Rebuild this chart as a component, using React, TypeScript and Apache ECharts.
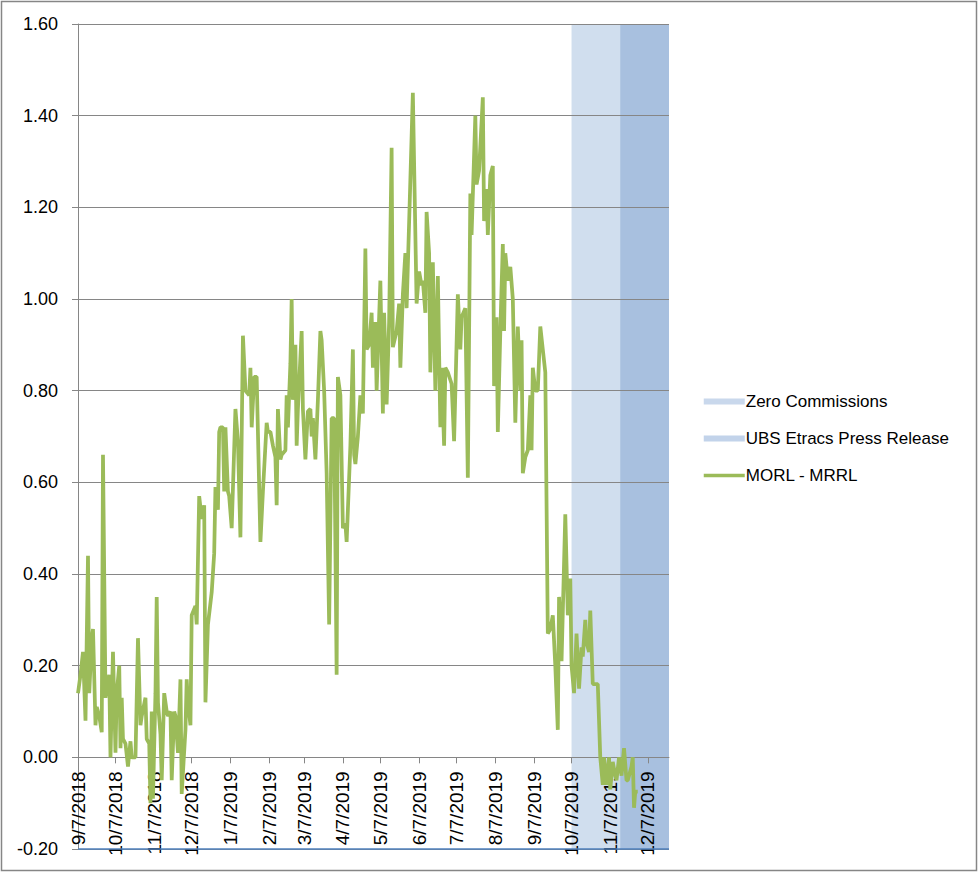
import React, { useEffect, useRef } from "react";
import * as echarts from "echarts";

const axisStart = [2018, 9, 7];
const axisEnd = [2019, 12, 24];

const tickLabels = [
  "9/7/2018", "10/7/2018", "11/7/2018", "12/7/2018", "1/7/2019", "2/7/2019", "3/7/2019", "4/7/2019",
  "5/7/2019", "6/7/2019", "7/7/2019", "8/7/2019", "9/7/2019", "10/7/2019", "11/7/2019", "12/7/2019",
];

const zeroCommissions = ["10/7/2019", "12/24/2019"];
const ubsPressRelease = ["11/15/2019", "12/24/2019"];

const dates = [
  "9/7/2018", "9/9/2018", "9/11/2018", "9/13/2018", "9/15/2018", "9/16/2018", "9/18/2018", "9/19/2018",
  "9/21/2018", "9/22/2018", "9/24/2018", "9/26/2018", "9/27/2018", "9/29/2018", "9/30/2018", "10/2/2018",
  "10/3/2018", "10/4/2018", "10/5/2018", "10/7/2018", "10/8/2018", "10/10/2018", "10/11/2018", "10/12/2018",
  "10/13/2018", "10/15/2018", "10/17/2018", "10/19/2018", "10/20/2018", "10/23/2018", "10/25/2018", "10/27/2018",
  "10/28/2018", "10/31/2018", "11/1/2018", "11/3/2018", "11/4/2018", "11/5/2018", "11/6/2018", "11/8/2018",
  "11/9/2018", "11/10/2018", "11/12/2018", "11/13/2018", "11/15/2018", "11/17/2018", "11/18/2018", "11/20/2018",
  "11/21/2018", "11/23/2018", "11/24/2018", "11/26/2018", "11/28/2018", "11/29/2018", "12/2/2018", "12/3/2018",
  "12/4/2018", "12/6/2018", "12/7/2018", "12/10/2018", "12/11/2018", "12/13/2018", "12/15/2018", "12/17/2018",
  "12/18/2018", "12/20/2018", "12/23/2018", "12/25/2018", "12/26/2018", "12/28/2018", "12/29/2018", "12/30/2018",
  "1/1/2019", "1/2/2019", "1/3/2019", "1/5/2019", "1/6/2019", "1/8/2019", "1/11/2019", "1/13/2019",
  "1/15/2019", "1/17/2019", "1/19/2019", "1/22/2019", "1/23/2019", "1/24/2019", "1/26/2019", "1/28/2019",
  "1/31/2019", "2/2/2019", "2/5/2019", "2/6/2019", "2/8/2019", "2/10/2019", "2/12/2019", "2/13/2019",
  "2/14/2019", "2/16/2019", "2/17/2019", "2/20/2019", "2/21/2019", "2/22/2019", "2/24/2019", "2/25/2019",
  "2/26/2019", "2/28/2019", "3/1/2019", "3/2/2019", "3/5/2019", "3/6/2019", "3/8/2019", "3/10/2019",
  "3/12/2019", "3/13/2019", "3/14/2019", "3/16/2019", "3/18/2019", "3/20/2019", "3/21/2019", "3/23/2019",
  "3/25/2019", "3/27/2019", "3/29/2019", "3/31/2019", "4/2/2019", "4/3/2019", "4/5/2019", "4/7/2019",
  "4/9/2019", "4/10/2019", "4/13/2019", "4/15/2019", "4/16/2019", "4/17/2019", "4/19/2019", "4/21/2019",
  "4/23/2019", "4/25/2019", "4/26/2019", "4/28/2019", "4/30/2019", "5/1/2019", "5/3/2019", "5/4/2019",
  "5/7/2019", "5/9/2019", "5/10/2019", "5/12/2019", "5/14/2019", "5/16/2019", "5/17/2019", "5/20/2019",
  "5/22/2019", "5/23/2019", "5/25/2019", "5/27/2019", "5/28/2019", "5/31/2019", "6/2/2019", "6/5/2019",
  "6/7/2019", "6/9/2019", "6/10/2019", "6/12/2019", "6/13/2019", "6/15/2019", "6/16/2019", "6/18/2019",
  "6/20/2019", "6/22/2019", "6/24/2019", "6/25/2019", "6/27/2019", "6/28/2019", "6/30/2019", "7/3/2019",
  "7/5/2019", "7/8/2019", "7/10/2019", "7/11/2019", "7/14/2019", "7/16/2019", "7/18/2019", "7/19/2019",
  "7/22/2019", "7/23/2019", "7/25/2019", "7/28/2019", "7/29/2019", "7/31/2019", "8/1/2019", "8/3/2019",
  "8/5/2019", "8/6/2019", "8/8/2019", "8/9/2019", "8/11/2019", "8/13/2019", "8/14/2019", "8/15/2019",
  "8/17/2019", "8/19/2019", "8/21/2019", "8/23/2019", "8/25/2019", "8/27/2019", "8/28/2019", "8/29/2019",
  "8/31/2019", "9/2/2019", "9/4/2019", "9/5/2019", "9/6/2019", "9/8/2019", "9/10/2019", "9/12/2019",
  "9/14/2019", "9/16/2019", "9/18/2019", "9/20/2019", "9/22/2019", "9/24/2019", "9/26/2019", "9/27/2019",
  "9/29/2019", "10/2/2019", "10/4/2019", "10/6/2019", "10/7/2019", "10/9/2019", "10/11/2019", "10/13/2019",
  "10/15/2019", "10/16/2019", "10/18/2019", "10/19/2019", "10/21/2019", "10/22/2019", "10/24/2019", "10/28/2019",
  "10/30/2019", "11/1/2019", "11/2/2019", "11/4/2019", "11/6/2019", "11/7/2019", "11/9/2019", "11/11/2019",
  "11/12/2019", "11/14/2019", "11/16/2019", "11/18/2019", "11/20/2019", "11/21/2019", "11/24/2019", "11/25/2019",
  "11/26/2019", "11/27/2019", "11/29/2019",
];

const spreadValues = [
  0.14, 0.18, 0.23, 0.08, 0.44, 0.14, 0.26, 0.28,
  0.07, 0.11, 0.09, 0.055, 0.66, 0.13, 0.155, 0.18,
  0.0, 0.12, 0.23, 0.01, 0.14, 0.2, 0.02, 0.13,
  0.04, 0.03, -0.02, 0.035, 0.0, 0.0, 0.26, 0.07,
  0.09, 0.13, 0.04, 0.03, -0.1, 0.1, -0.09, 0.14,
  0.35, 0.12, 0.05, -0.05, 0.14, 0.1, 0.09, 0.1,
  -0.05, 0.1, 0.09, 0.01, 0.17, -0.08, 0.06, 0.17,
  0.12, 0.07, 0.31, 0.33, 0.29, 0.57, 0.52, 0.55,
  0.12, 0.29, 0.36, 0.445, 0.59, 0.54, 0.71, 0.72,
  0.72, 0.58, 0.72, 0.58, 0.57, 0.5, 0.76, 0.69,
  0.48, 0.92, 0.8, 0.79, 0.85, 0.72, 0.83, 0.83,
  0.47, 0.58, 0.73, 0.71, 0.71, 0.68, 0.655, 0.55,
  0.76, 0.65, 0.66, 0.67, 0.79, 0.72, 0.86, 1.0,
  0.78, 0.9, 0.68, 0.76, 0.93, 0.76, 0.65, 0.755,
  0.76, 0.7, 0.74, 0.65, 0.78, 0.93, 0.91, 0.8,
  0.62, 0.29, 0.74, 0.74, 0.18, 0.83, 0.79, 0.5,
  0.51, 0.47, 0.68, 0.89, 0.66, 0.64, 0.7, 0.79,
  0.75, 1.11, 0.89, 0.9, 0.97, 0.85, 0.95, 0.8,
  1.04, 0.75, 0.97, 0.77, 0.95, 1.33, 0.895, 0.93,
  0.99, 0.85, 1.01, 1.1, 0.98, 1.26, 1.45, 0.99,
  1.06, 1.03, 1.04, 0.97, 1.19, 1.1, 0.84, 1.08,
  0.8, 1.05, 0.72, 0.85, 0.68, 0.85, 0.84, 0.815,
  0.69, 1.01, 0.89, 0.96, 0.98, 0.61, 1.23, 1.14,
  1.4, 1.25, 1.28, 1.44, 1.17, 1.24, 1.14, 1.27,
  1.29, 0.81, 0.96, 0.71, 0.93, 1.12, 0.93, 1.1,
  1.04, 1.07, 1.0, 0.73, 0.94, 0.8, 0.91, 0.62,
  0.655, 0.67, 0.79, 0.67, 0.85, 0.8, 0.8, 0.94,
  0.89, 0.84, 0.27, 0.28, 0.31, 0.2, 0.06, 0.35,
  0.21, 0.53, 0.31, 0.39, 0.2, 0.14, 0.27, 0.15,
  0.24, 0.22, 0.3, 0.25, 0.23, 0.32, 0.16, 0.16,
  0.0, -0.06, 0.0, -0.06, 0.0, -0.07, -0.01, -0.04,
  -0.05, 0.0, -0.04, 0.02, -0.05, -0.05, -0.02, 0.0,
  -0.11, -0.075, -0.075,
];

function buildCategories(): string[] {
  const out: string[] = [];
  let t = Date.UTC(axisStart[0], axisStart[1] - 1, axisStart[2]);
  const end = Date.UTC(axisEnd[0], axisEnd[1] - 1, axisEnd[2]);
  while (t <= end) {
    const d = new Date(t);
    out.push(`${d.getUTCMonth() + 1}/${d.getUTCDate()}/${d.getUTCFullYear()}`);
    t += 86400000;
  }
  return out;
}

const FONT = "Liberation Sans";
const GRID_GRAY = "#868686";
const Y_MIN = -0.2;
const Y_MAX = 1.6;
const GRID_TOP = 24;
const GRID_BOTTOM = 23;
const CHART_H = 872;

export default function App() {
  const ref = useRef<HTMLDivElement>(null);

  useEffect(() => {
    if (!ref.current) return;
    const chart = echarts.init(ref.current, null, { renderer: "svg" });
    const categories = buildCategories();
    const idx = new Map<string, number>();
    categories.forEach((c, i) => idx.set(c, i));
    const tickSet = new Set(tickLabels);
    const showTick = (_i: number, v: string) => tickSet.has(v);

    const lineData = dates.map((d, i) => [idx.get(d), spreadValues[i]]);

    // distance (px) from the bottom of the plot (Y_MIN) up to the zero line
    const plotH = CHART_H - GRID_TOP - GRID_BOTTOM;
    const zeroOffset = (plotH * (0 - Y_MIN)) / (Y_MAX - Y_MIN);

    chart.setOption({
      animation: false,
      textStyle: { fontFamily: FONT },
      graphic: [
        {
          type: "rect",
          shape: { x: 1.5, y: 1.5, width: 975, height: 869 },
          style: { fill: "none", stroke: GRID_GRAY, lineWidth: 1.5 },
          silent: true,
        },
      ],
      grid: { left: 78, top: GRID_TOP, right: 309, bottom: GRID_BOTTOM, containLabel: false },
      legend: {
        orient: "vertical",
        left: 697,
        top: 388,
        itemWidth: 41,
        itemHeight: 6,
        itemGap: 20,
        textStyle: { fontSize: 17, color: "#000", fontFamily: FONT, padding: [0, 0, 0, -4] },
        data: [
          { name: "Zero Commissions", icon: "rect" },
          { name: "UBS Etracs Press Release", icon: "rect" },
          {
            name: "MORL - MRRL",
            itemStyle: { opacity: 0, borderWidth: 0 },
            lineStyle: { width: 3.5, color: "#9BBB59" },
          },
        ],
      },
      xAxis: {
        type: "category",
        data: categories,
        boundaryGap: false,
        position: "bottom",
        offset: -zeroOffset,
        z: 1.5,
        axisLine: { show: true, onZero: false, lineStyle: { color: GRID_GRAY, width: 1 } },
        axisTick: { show: true, interval: showTick, length: 6, lineStyle: { color: GRID_GRAY } },
        axisLabel: {
          interval: showTick,
          rotate: 90,
          margin: 14,
          fontSize: 19,
          color: "#000",
          fontFamily: FONT,
        },
        splitLine: { show: false },
      },
      yAxis: {
        type: "value",
        min: Y_MIN,
        max: Y_MAX,
        interval: 0.2,
        z: 1.5,
        axisLine: { show: true, lineStyle: { color: GRID_GRAY, width: 1 } },
        axisTick: { show: true, length: 6, lineStyle: { color: GRID_GRAY } },
        axisLabel: {
          formatter: (v: number) => v.toFixed(2),
          fontSize: 18,
          color: "#000",
          margin: 20,
          fontFamily: FONT,
        },
        splitLine: { show: true, lineStyle: { color: GRID_GRAY, width: 1 } },
      },
      series: [
        {
          name: "Zero Commissions",
          type: "line",
          data: [],
          symbol: "none",
          itemStyle: { color: "#C9D8EC" },
          lineStyle: { color: "#C9D8EC" },
          markArea: {
            silent: true,
            itemStyle: { color: "#D0DEEE" },
            data: [[{ xAxis: zeroCommissions[0] }, { xAxis: zeroCommissions[1] }]],
          },
          markLine: {
            silent: true,
            symbol: "none",
            label: { show: false },
            lineStyle: { color: "#4F81BD", type: "solid", width: 1.5 },
            data: [{ yAxis: Y_MIN }],
          },
        },
        {
          name: "UBS Etracs Press Release",
          type: "line",
          data: [],
          symbol: "none",
          itemStyle: { color: "#C2D3EA" },
          lineStyle: { color: "#C2D3EA" },
          markArea: {
            silent: true,
            itemStyle: { color: "#A8C0DF" },
            data: [[{ xAxis: ubsPressRelease[0] }, { xAxis: ubsPressRelease[1] }]],
          },
        },
        {
          name: "MORL - MRRL",
          type: "line",
          data: lineData,
          symbol: "none",
          showSymbol: false,
          z: 3,
          itemStyle: { color: "#9BBB59" },
          lineStyle: { color: "#9BBB59", width: 3.75 },
        },
      ],
    });

    return () => chart.dispose();
  }, []);

  return (
    <div
      ref={ref}
      style={{ position: "fixed", left: 0, top: 0, width: 978, height: 872, background: "#fff" }}
    />
  );
}
